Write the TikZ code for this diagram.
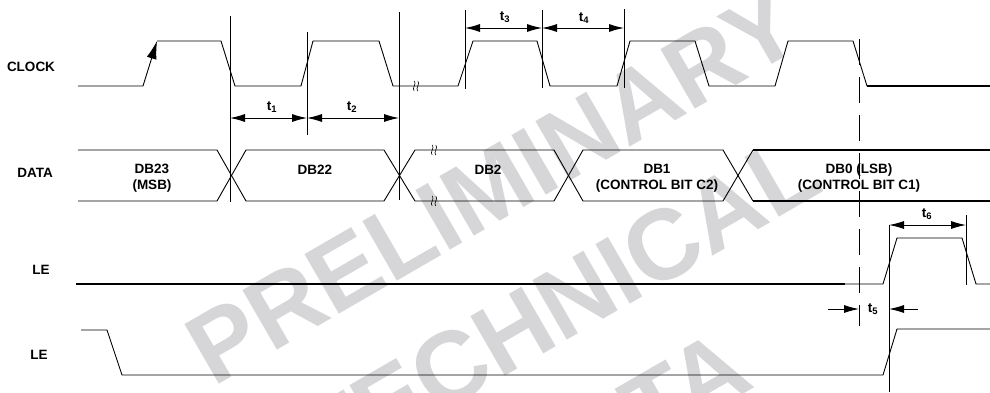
\documentclass[tikz,border=0pt]{standalone}
\usepackage{fontspec}
\setmainfont{Liberation Sans}
\usetikzlibrary{arrows.meta}
\definecolor{wmgray}{RGB}{214,214,216}
\begin{document}
\begin{tikzpicture}[x=1pt,y=-1pt,
  wave/.style={line width=0.9pt, line join=miter},
  heavy/.style={line width=1.6pt},
  markline/.style={line width=0.8pt},
  dimarrow/.style={line width=0.9pt,{Latex[length=15pt,width=8pt]}-{Latex[length=15pt,width=8pt]}},
  onearrow/.style={line width=0.9pt,-{Latex[length=15pt,width=8pt]}},
  lbl/.style={font=\fontsize{13.5}{16}\selectfont\bfseries, inner sep=0pt, align=center},
  tlbl/.style={font=\fontsize{13.5}{14}\selectfont\bfseries, inner sep=0pt},
  wmtext/.style={font=\fontsize{100}{100}\selectfont\bfseries, text=wmgray, inner sep=0pt, rotate=30},
  brk/.pic={
    \draw[line width=0.6pt] (-1.8,-5) .. controls (1.2,-2.5) and (-4.8,2.5) .. (-1.8,5);
    \draw[line width=0.6pt] (1.8,-5) .. controls (4.8,-2.5) and (-1.2,2.5) .. (1.8,5);
  }]
\useasboundingbox (0,0) rectangle (990,392);
\fill[white] (0,0) rectangle (990,392);

% watermark
\begin{scope}
  \clip (0,0) rectangle (990,392);
  \node[wmtext] (wm1) at (493,186) {PRELIMINARY};
  \node[wmtext] (wm2) at (559,305) {TECHNICAL};
  \node[wmtext] (wm3) at (626,422) {DATA};
\end{scope}

% row labels
\node[lbl] (lclk) at (31,67) {CLOCK};
\node[lbl] (ldata) at (35,173) {DATA};
\node[lbl] (lle1) at (41,270) {LE};
\node[lbl] (lle2) at (39,355) {LE};

% clock waveform
\draw[wave,-{Latex[length=18pt,width=10pt]}] (78,86) -- (143,86) -- (157,41);
\draw[wave] (157,41) -- (221,41) -- (235,86) -- (301,86) -- (313,41) -- (379,41)
  -- (393,86) -- (458,86) -- (473,41) -- (537,41) -- (550,86) -- (617,86)
  -- (630,41) -- (695,41) -- (709,86) -- (775,86) -- (788,41) -- (853,41) -- (867,86);
\draw[heavy] (867,86) -- (990,86);
\pic at (416,86) {brk};

% data waveform
\draw[wave] (78,150) -- (217,150) -- (246,201) -- (384,201) -- (415,150) -- (554,150)
  -- (583,201) -- (723,201) -- (753,150);
\draw[wave] (78,201) -- (217,201) -- (246,150) -- (384,150) -- (415,201) -- (554,201)
  -- (583,150) -- (723,150) -- (753,201);
\draw[heavy] (753,150) -- (990,150);
\draw[heavy] (753,201) -- (990,201);
\pic at (434,150) {brk};
\pic at (434,201) {brk};

\node[lbl] (db23) at (152,178) {DB23\\(MSB)};
\node[lbl] (db22) at (315,170) {DB22};
\node[lbl] (db2) at (488,170) {DB2};
\node[lbl] (db1) at (657,178) {DB1\\(CONTROL BIT C2)};
\node[lbl] (db0) at (859,178) {DB0 (LSB)\\(CONTROL BIT C1)};

% LE (first)
\draw[heavy] (76,284) -- (845,284);
\draw[wave] (845,284) -- (883,284) -- (897,238) -- (962,238) -- (976,284) -- (990,284);

% LE (second)
\draw[wave] (81,330) -- (107,330) -- (122,375) -- (883,375) -- (897,329) -- (990,329);

% marker lines
\draw[markline] (230,16) -- (230,202);
\draw[markline] (307,32) -- (307,135);
\draw[markline] (399,12) -- (399,200);
\draw[markline] (465,10) -- (465,89);
\draw[markline] (542,10) -- (542,88);
\draw[markline] (624,9) -- (624,88);
\draw[markline] (889,225) -- (889,392);
\draw[markline] (966,215) -- (966,285);
\draw[line width=0.9pt, dash pattern=on 26pt off 12pt] (859,39) -- (859,326);

% timing dimensions
\coordinate (a1) at (230,118); \coordinate (b1) at (307,118); \coordinate (c1) at (399,118);
\draw[dimarrow] (a1) -- (b1);
\draw[dimarrow] (b1) -- (c1);
\node[tlbl] (t1) at (272,107) {t\textsubscript{1}};
\node[tlbl] (t2) at (352,107) {t\textsubscript{2}};

\coordinate (a3) at (465,28); \coordinate (b3) at (542,28); \coordinate (c3) at (624,28);
\draw[dimarrow] (a3) -- (b3);
\draw[dimarrow] (b3) -- (c3);
\node[tlbl] (t3) at (505,17) {t\textsubscript{3}};
\node[tlbl] (t4) at (584,18) {t\textsubscript{4}};

\coordinate (a6) at (889,225); \coordinate (b6) at (966,225);
\draw[dimarrow] (a6) -- (b6);
\node[tlbl] (t6) at (927,214) {t\textsubscript{6}};

\coordinate (s5) at (828,309); \coordinate (e5) at (859,309);
\coordinate (s5b) at (918,309); \coordinate (e5b) at (889,309);
\draw[onearrow] (s5) -- (e5);
\draw[onearrow] (s5b) -- (e5b);
\node[tlbl] (t5) at (873,309) {t\textsubscript{5}};
\end{tikzpicture}
\end{document}
